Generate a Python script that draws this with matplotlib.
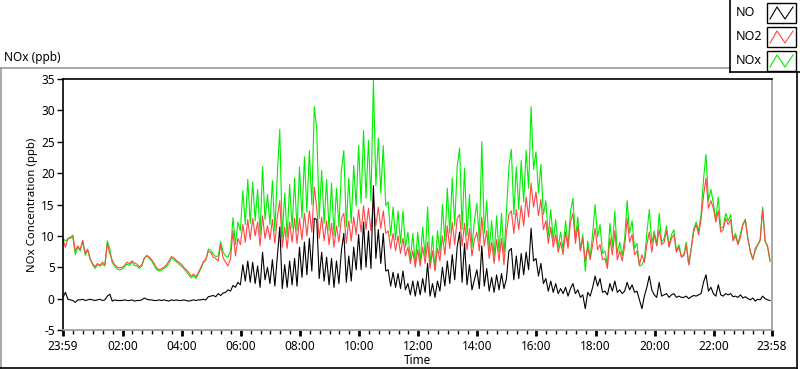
import pandas as pd
import matplotlib
matplotlib.use("Agg")
import matplotlib.pyplot as plt
from matplotlib.lines import Line2D
from matplotlib.patches import Rectangle

plt.rcParams['font.family'] = ['Noto Sans', 'DejaVu Sans']

# 5-minute samples starting 23:59, one row per hour
no = [
    0.2, 1.0, -0.1, -0.2, -0.3, -0.6, -0.2, -0.2, -0.1, -0.3, -0.2, -0.1,
    -0.2, -0.3, -0.2, -0.1, -0.3, -0.2, 0.4, 0.7, -0.4, -0.2, -0.3, -0.3,
    -0.3, -0.2, -0.3, -0.3, -0.2, -0.4, -0.3, -0.3, -0.2, 0.1, -0.1, -0.2,
    -0.2, -0.3, -0.3, -0.2, -0.3, -0.2, -0.3, -0.4, -0.2, -0.3, -0.2, -0.3,
    -0.3, -0.2, -0.3, -0.4, -0.3, -0.2, -0.3, -0.2, -0.2, -0.1, -0.2, 0.3,
    0.4, 0.5, 0.3, 0.8, 0.5, 0.9, 1.0, 1.4, 1.2, 2.1, 1.8, 2.6,
    2.2, 5.4, 2.8, 6.0, 2.6, 5.8, 2.4, 5.2, 1.8, 7.4, 3.0, 5.0,
    2.4, 6.2, 2.0, 6.8, 11.4, 1.6, 5.4, 1.8, 6.0, 2.2, 6.4, 2.0,
    8.2, 3.4, 9.0, 3.8, 9.6, 4.4, 12.8, 12.6, 3.2, 7.4, 2.8, 6.6,
    2.2, 6.4, 1.8, 6.0, 2.4, 7.6, 10.4, 2.6, 6.8, 2.8, 8.2, 4.6,
    10.2, 4.6, 12.2, 5.0, 10.8, 4.8, 18.0, 6.4, 11.0, 5.6, 10.4, 4.4,
    4.6, 2.0, 4.2, 1.8, 4.0, 1.6, 4.4, 1.4, 2.4, 0.6, 2.8, 0.4,
    2.8, 0.6, 3.2, 1.0, 5.6, 0.4, 2.4, 0.2, 2.8, 1.2, 5.0, 2.0,
    6.0, 2.4, 7.0, 3.0, 8.2, 10.6, 2.6, 8.8, 2.2, 5.4, 1.4, 3.0,
    4.6, 1.6, 8.4, 2.0, 4.8, 1.2, 3.4, 1.0, 3.8, 1.4, 4.0, 1.6,
    3.2, 7.6, 8.0, 3.0, 6.8, 3.2, 7.2, 3.8, 7.4, 4.6, 11.2, 6.0,
    6.4, 3.6, 5.6, 2.4, 3.2, 1.2, 2.8, 1.0, 2.4, 0.8, 1.6, 0.8,
    1.8, 0.4, 1.6, 2.4, 0.8, 1.4, 0.2, 0.6, -1.6, 1.0, 0.4, 1.8,
    3.6, 2.0, 3.2, 1.0, 1.2, 0.6, 2.4, 1.2, 2.8, 1.0, 1.4, 0.8,
    1.2, 2.6, 1.4, 2.2, 1.0, 1.2, -0.2, -1.6, 0.4, 1.8, 3.6, 1.4,
    0.6, 0.2, 2.6, 0.4, 0.6, 0.8, 0.2, 0.6, 0.8, 0.2, 0.4, 0.2,
    0.2, 0.4, 0.0, 0.3, 0.5, 0.4, 0.6, 0.8, 2.6, 3.8, 1.2, 1.8,
    0.8, 0.4, 2.2, 0.6, 0.4, 0.8, 0.6, 0.8, 0.3, 0.4, 0.2, 0.6,
    0.1, 0.3, 0.0, -0.2, 0.1, -0.4, -0.1, -0.2, 0.4, 0.0, -0.2, -0.3,
]

no2 = [
    9.4, 8.2, 9.6, 9.8, 10.1, 7.6, 8.4, 7.8, 9.3, 7.2, 7.9, 6.4,
    5.6, 5.1, 5.6, 5.3, 5.8, 5.4, 8.8, 7.2, 6.1, 5.4, 5.0, 4.9,
    5.0, 5.3, 5.8, 5.6, 6.0, 5.7, 5.5, 5.1, 5.4, 6.4, 6.9, 6.6,
    6.2, 5.6, 4.9, 4.6, 4.8, 5.0, 5.4, 6.0, 6.7, 6.5, 6.1, 5.8,
    5.5, 5.0, 4.6, 4.2, 3.6, 3.9, 3.5, 4.2, 5.0, 5.9, 6.3, 7.6,
    7.3, 6.6, 6.4, 6.0, 8.6, 6.5, 5.8, 5.2, 6.4, 10.8, 6.8, 9.6,
    8.6, 11.8, 9.0, 12.6, 9.4, 12.8, 10.0, 12.2, 8.4, 13.2, 9.6, 11.6,
    9.4, 12.6, 8.8, 13.0, 15.6, 8.2, 11.4, 8.0, 12.2, 9.0, 12.8, 8.8,
    12.8, 9.4, 13.6, 10.0, 14.0, 10.6, 17.8, 14.4, 9.6, 13.0, 9.2, 12.4,
    8.6, 12.0, 8.2, 11.6, 9.0, 12.8, 13.6, 8.8, 12.4, 9.2, 13.0, 10.2,
    14.2, 10.6, 14.8, 11.0, 14.4, 10.8, 15.8, 11.6, 14.6, 11.2, 14.0, 10.4,
    10.8, 8.0, 10.4, 7.6, 10.0, 7.2, 9.6, 6.8, 8.2, 5.6, 7.6, 5.0,
    7.8, 5.2, 8.2, 5.6, 9.0, 4.8, 7.6, 4.4, 8.0, 6.0, 10.0, 7.0,
    11.6, 8.0, 12.2, 8.6, 12.8, 13.4, 8.4, 12.0, 7.8, 11.2, 6.8, 9.4,
    10.6, 7.6, 13.0, 8.4, 10.8, 6.4, 9.0, 5.6, 9.4, 6.0, 9.6, 5.4,
    10.6, 13.4, 14.0, 10.4, 14.2, 11.0, 14.8, 11.6, 16.2, 13.0, 18.4, 14.6,
    17.0, 13.2, 15.8, 11.0, 12.4, 8.8, 11.4, 8.2, 10.2, 7.4, 9.0, 7.0,
    10.6, 8.0, 12.2, 13.6, 8.8, 11.6, 7.6, 9.6, 6.0, 8.2, 6.2, 8.6,
    11.2, 7.8, 8.6, 6.2, 6.4, 4.8, 9.6, 7.0, 10.8, 6.2, 7.6, 6.0,
    8.4, 12.8, 9.0, 10.2, 7.0, 7.6, 5.4, 7.0, 5.8, 8.6, 10.6, 7.4,
    10.2, 8.4, 11.0, 8.6, 9.0, 10.8, 8.2, 9.6, 10.2, 7.4, 8.2, 6.6,
    6.8, 8.6, 5.4, 7.8, 10.6, 11.8, 10.2, 12.6, 16.4, 19.2, 14.4, 15.6,
    14.4, 12.2, 14.0, 10.6, 11.0, 12.8, 11.8, 12.6, 9.2, 10.0, 8.6, 9.8,
    11.8, 12.4, 9.6, 7.6, 6.2, 8.0, 8.6, 9.4, 14.2, 9.2, 8.4, 6.2,
]

nox = [
    9.6, 9.2, 9.5, 9.6, 9.8, 7.0, 8.2, 7.6, 9.2, 6.9, 7.7, 6.3,
    5.4, 4.8, 5.4, 5.2, 5.5, 5.2, 9.2, 7.9, 5.7, 5.2, 4.7, 4.6,
    4.7, 5.1, 5.5, 5.3, 5.8, 5.3, 5.2, 4.8, 5.2, 6.5, 6.8, 6.4,
    6.0, 5.3, 4.6, 4.4, 4.5, 4.8, 5.1, 5.6, 6.5, 6.2, 5.9, 5.5,
    5.2, 4.8, 4.3, 3.8, 3.3, 3.7, 3.2, 4.0, 4.8, 5.8, 6.1, 7.9,
    7.7, 7.1, 6.7, 6.8, 9.1, 7.4, 6.8, 6.6, 7.6, 12.9, 8.6, 12.2,
    10.8, 17.2, 11.8, 19.0, 12.0, 18.6, 12.4, 17.4, 10.2, 21.0, 12.6, 16.6,
    11.8, 18.8, 10.8, 19.8, 27.0, 9.8, 16.8, 9.8, 18.2, 11.2, 19.2, 10.8,
    21.0, 12.8, 22.6, 13.8, 23.6, 15.0, 30.6, 27.0, 12.8, 20.4, 12.0, 19.0,
    10.8, 18.4, 10.0, 17.6, 11.4, 20.4, 23.6, 11.4, 19.2, 12.0, 21.2, 14.8,
    24.4, 15.2, 26.8, 16.0, 25.2, 15.6, 34.8, 18.0, 25.6, 16.8, 24.4, 14.8,
    15.4, 10.0, 14.6, 9.4, 14.0, 8.8, 14.0, 8.2, 10.6, 6.2, 10.4, 5.4,
    10.6, 5.8, 11.4, 6.6, 14.6, 5.2, 10.0, 4.6, 10.8, 7.2, 15.0, 9.0,
    17.6, 10.4, 19.2, 11.6, 21.0, 24.0, 11.0, 20.8, 10.0, 16.6, 8.2, 12.4,
    15.2, 9.2, 25.0, 10.4, 15.6, 7.6, 12.4, 6.6, 13.2, 7.4, 13.6, 7.0,
    13.8, 21.0, 23.8, 13.4, 21.0, 14.2, 22.0, 15.4, 23.6, 17.6, 30.6, 20.6,
    23.4, 16.8, 21.4, 13.4, 15.6, 10.0, 14.2, 9.2, 12.6, 8.2, 10.6, 7.8,
    12.4, 8.4, 13.8, 16.0, 9.6, 13.0, 7.8, 10.2, 4.4, 9.2, 6.6, 10.4,
    15.0, 9.8, 11.8, 7.2, 7.6, 5.4, 12.0, 8.2, 14.0, 7.2, 9.0, 6.8,
    9.6, 15.6, 10.4, 12.4, 8.0, 8.8, 5.2, 5.4, 6.2, 10.4, 14.2, 8.8,
    10.8, 8.6, 13.6, 9.0, 9.6, 11.6, 8.4, 10.2, 11.0, 7.6, 8.6, 6.8,
    7.0, 9.0, 5.4, 8.1, 11.1, 12.2, 10.8, 13.4, 19.0, 23.0, 15.6, 17.4,
    15.2, 12.6, 16.2, 11.2, 11.4, 13.6, 12.4, 13.4, 9.5, 10.4, 8.8, 10.4,
    11.9, 12.7, 9.6, 7.4, 6.3, 7.6, 8.5, 9.2, 14.6, 9.2, 8.2, 5.9,
]

times = pd.date_range('2015-06-01 23:59', periods=len(no), freq='5min')
t_start = pd.Timestamp('2015-06-01 23:59')
t_end = pd.Timestamp('2015-06-02 23:58')

y_ticks = [-5, 0, 5, 10, 15, 20, 25, 30, 35]

fig = plt.figure(figsize=(8, 3.69), dpi=100)
W, H = 800, 369
ax = fig.add_axes([63 / W, 1 - 330 / H, (772 - 63) / W, (330 - 79) / H])

ax.plot(times, nox, color='#00ee00', lw=0.8, label='NOx')
ax.plot(times, no2, color='#ff4646', lw=0.8, label='NO2')
ax.plot(times, no, color='black', lw=0.8, label='NO')

ax.set_xlim(t_start, t_end)
ax.set_ylim(-5, 35)
ax.set_yticks(y_ticks)
ax.set_yticklabels([str(v) for v in y_ticks])

major = [t_start] + [pd.Timestamp('2015-06-02') + pd.Timedelta(hours=h) for h in range(2, 24, 2)] + [t_end]
labels = [t.strftime('%H:%M') for t in major]
ax.set_xticks(major)
ax.set_xticklabels(labels)
minor = [pd.Timestamp('2015-06-02') + pd.Timedelta(minutes=m) for m in range(20, 1440, 20) if m % 120 != 0]
ax.set_xticks(minor, minor=True)

ax.tick_params(axis='both', which='major', labelsize=8.5, length=4, width=1, color='black', pad=2)
ax.tick_params(axis='x', which='major', width=2, length=4, pad=3)
ax.tick_params(axis='x', which='minor', length=3, width=1)

for side in ['top', 'left']:
    ax.spines[side].set_color('black')
for side in ['bottom', 'right']:
    ax.spines[side].set_color('#9a9a9a')
for sp in ax.spines.values():
    sp.set_linewidth(1.2)

fig.text(33 / W, 1 - 205 / H, 'NOx Concentration (ppb)', rotation=90, ha='center', va='center', fontsize=8.2)
fig.text(418 / W, 1 - 360 / H, 'Time', ha='center', va='center', fontsize=8.5)
fig.text(4 / W, 1 - 58 / H, 'NOx (ppb)', ha='left', va='center', fontsize=8.5)

# outer frame
fig.add_artist(Line2D([0.5 / W, 0.5 / W], [1 - 68 / H, 1 - 368 / H], color='#9a9a9a', lw=1.2))
fig.add_artist(Line2D([0, 730 / W], [1 - 68 / H, 1 - 68 / H], color='#9a9a9a', lw=1.2))
fig.add_artist(Line2D([0, 797 / W], [1 - 368 / H, 1 - 368 / H], color='black', lw=1.2))
fig.add_artist(Line2D([797 / W, 797 / W], [1 - 72 / H, 1 - 368 / H], color='black', lw=1.2))

# legend panel
fig.add_artist(Line2D([730 / W, 730 / W], [1, 1 - 72 / H], color='black', lw=1.2))
fig.add_artist(Line2D([730 / W, 1], [1 - 72 / H, 1 - 72 / H], color='black', lw=1.2))
entries = [('NO', 'black'), ('NO2', '#ff4646'), ('NOx', '#00ee00')]
for i, (name, col) in enumerate(entries):
    yc = 13 + 24 * i
    fig.text(736 / W, 1 - yc / H, name, ha='left', va='center', fontsize=9)
    fig.add_artist(Rectangle((767 / W, 1 - (yc + 10) / H), 29 / W, 20 / H,
                             fill=False, edgecolor='black', lw=1.0, transform=fig.transFigure))
    zx = [770, 777, 785, 793]
    zy = [yc + 6, yc - 6, yc + 6, yc - 6]
    fig.add_artist(Line2D([v / W for v in zx], [1 - v / H for v in zy], color=col, lw=0.8))

fig.savefig('out.png', dpi=100)
